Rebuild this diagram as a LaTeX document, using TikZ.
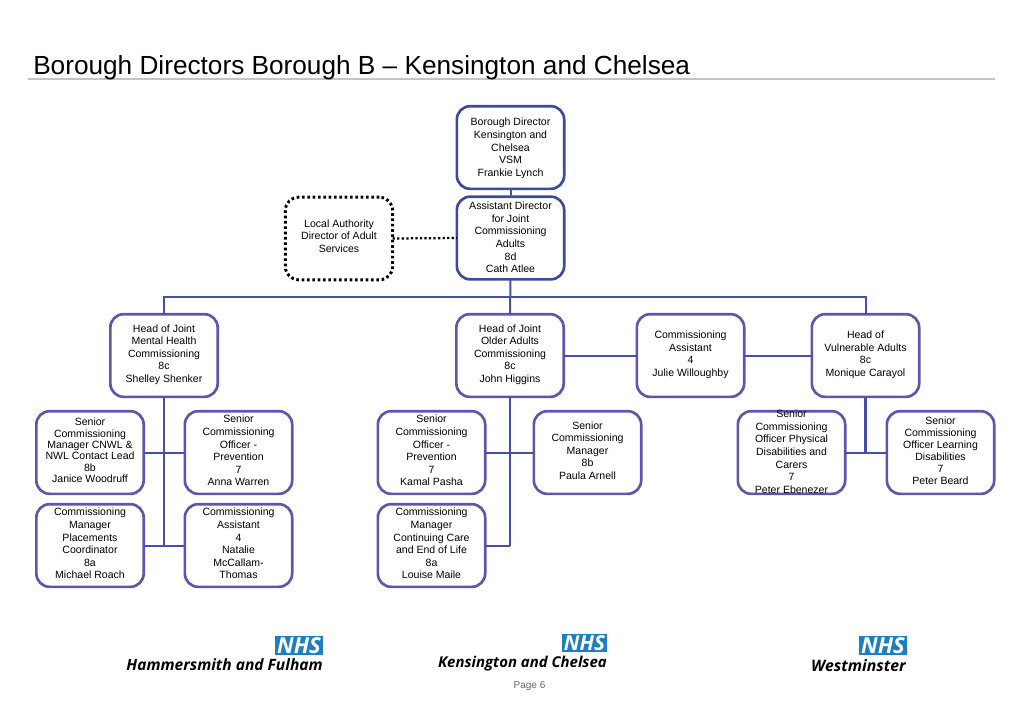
\documentclass[tikz,border=0pt]{standalone}
\usepackage{fontspec}
\setmainfont{Liberation Sans}
\newfontfamily\logofont{Open Sans}
\definecolor{topblue}{HTML}{3C4A9C}
\definecolor{lowblue}{HTML}{5F55AE}
\definecolor{linkblue}{HTML}{4450A6}
\definecolor{nhsblue}{HTML}{1B7FC1}
\definecolor{rulegrey}{HTML}{C4C4C4}
\NewDocumentCommand\ctext{O{9.45pt} O{3pt} m}{\raisebox{-#2}{\smash{\fontsize{7.9}{#1}\selectfont\begin{tabular}{@{}c@{}}#3\end{tabular}}}}
\tikzset{
  px/.style={x=0.75pt,y=-0.75pt},
  orgbox/.style={rectangle,rounded corners=10pt,line width=2pt,minimum width=80.5pt,minimum height=62pt,inner sep=0pt,outer sep=0pt,align=center},
  topbox/.style={orgbox,draw=topblue},
  lowbox/.style={orgbox,draw=lowblue},
  dotbox/.style={orgbox,draw=black,line width=2.2pt,dash pattern=on 2pt off 2pt},
  link/.style={draw=linkblue,line width=1.5pt},
  trunk/.style={draw=linkblue,line width=1.9pt},
  dotlink/.style={draw=black,line width=1.7pt,dash pattern=on 1.7pt off 1.7pt},
  titletext/.style={anchor=base west,inner sep=0pt,font=\fontsize{19.65}{22}\selectfont},
  logotext/.style={anchor=base east,inner sep=0pt,text=black,font=\logofont\bfseries\itshape},
  nhsbox/.style={fill=nhsblue,minimum height=14pt,inner sep=0pt,outer sep=0pt,text=white,font=\logofont\bfseries\itshape\fontsize{16.5}{16.5}\selectfont}
}
\begin{document}
\begin{tikzpicture}[px]
\useasboundingbox (0,0) rectangle (1023,708);
\coordinate (ruleL) at (28,79);
\coordinate (ruleR) at (995,79);
\draw[rulegrey,line width=0.8pt] (ruleL) -- (ruleR);
\node[titletext] (title) at (33,74.5) {Borough Directors Borough B – Kensington and Chelsea};

\node[topbox] (bd) at (510.5,147.5) {\ctext[9.45pt][5.6pt]{Borough Director\\Kensington and\\Chelsea\\VSM\\Frankie Lynch}};
\node[topbox] (ad) at (510.5,238) {\ctext[9.45pt][5pt]{Assistant Director\\for Joint\\Commissioning\\Adults\\8d\\Cath Atlee}};
\node[dotbox] (la) at (339,238.5) {\ctext[9.45pt][2pt]{Local Authority\\Director of Adult\\Services}};

\node[lowbox] (h1) at (164,355.5) {\ctext{Head of Joint\\Mental Health\\Commissioning\\8c\\Shelley Shenker}};
\node[lowbox] (h2) at (510,355.5) {\ctext{Head of Joint\\Older Adults\\Commissioning\\8c\\John Higgins}};
\node[lowbox] (ca) at (690.5,355.5) {\ctext{Commissioning\\Assistant\\4\\Julie Willoughby}};
\node[lowbox] (h3) at (865.5,355.5) {\ctext{Head of\\Vulnerable Adults\\8c\\Monique Carayol}};

\node[lowbox] (a1) at (90,452.5) {\ctext[8.55pt][3pt]{Senior\\Commissioning\\Manager CNWL \&\\NWL Contact Lead\\8b\\Janice Woodruff}};
\node[lowbox] (a2) at (238.5,452.5) {\ctext{Senior\\Commissioning\\Officer -\\Prevention\\7\\Anna Warren}};
\node[lowbox] (a3) at (431.5,452.5) {\ctext{Senior\\Commissioning\\Officer -\\Prevention\\7\\Kamal Pasha}};
\node[lowbox] (a4) at (587.5,452.5) {\ctext{Senior\\Commissioning\\Manager\\8b\\Paula Arnell}};
\node[lowbox] (a5) at (791.5,452.5) {\ctext[9.45pt][4.8pt]{Senior\\Commissioning\\Officer Physical\\Disabilities and\\Carers\\7\\Peter Ebenezer}};
\node[lowbox] (a6) at (940.5,452.5) {\ctext[9pt][3pt]{Senior\\Commissioning\\Officer Learning\\Disabilities\\7\\Peter Beard}};

\node[lowbox] (b1) at (90,545.5) {\ctext{Commissioning\\Manager\\Placements\\Coordinator\\8a\\Michael Roach}};
\node[lowbox] (b2) at (238.5,545.5) {\ctext{Commissioning\\Assistant\\4\\Natalie\\McCallam-\\Thomas}};
\node[lowbox] (b3) at (431.5,545.5) {\ctext{Commissioning\\Manager\\Continuing Care\\and End of Life\\8a\\Louise Maile}};

\coordinate (bus) at (510,296.5);
\draw[link] (bd.south) -- (ad.north);
\draw[link] (ad.south) -- (h2.north);
\draw[link] (h1.north) |- (bus) -| (h3.north);
\draw[dotlink] (la.east) -- (ad.west);
\draw[link] (h2.east) -- (ca.west);
\draw[link] (ca.east) -- (h3.west);
\draw[trunk] (h1.south) -- (h1.south |- b1.east);
\draw[link] (a1.east) -- (a2.west);
\draw[link] (b1.east) -- (b2.west);
\draw[trunk] (h2.south) -- (h2.south |- b3.east);
\draw[link] (h2.south |- b3.east) -- (b3.east);
\draw[link] (a3.east) -- (a4.west);
\draw[trunk] (h3.south) -- (h3.south |- a5.east);
\draw[link] (a5.east) -- (a6.west);

\node[nhsbox,minimum width=36pt] (nhs1) at (299,645.5) {NHS};
\node[nhsbox,minimum width=34pt,font=\logofont\bfseries\itshape\fontsize{15.5}{15.5}\selectfont] (nhs2) at (584.5,643) {NHS};
\node[nhsbox,minimum width=36pt] (nhs3) at (883,645.5) {NHS};
\node[logotext,font=\logofont\bfseries\itshape\fontsize{11.67}{13}\selectfont] (log1) at (323,670) {Hammersmith and Fulham};
\node[logotext,font=\logofont\bfseries\itshape\fontsize{11.2}{13}\selectfont] (log2) at (607,667) {Kensington and Chelsea};
\node[logotext,font=\logofont\bfseries\itshape\fontsize{11.85}{13}\selectfont] (log3) at (906,671) {Westminster};
\node[inner sep=0pt,text=black!60,font=\fontsize{7.5}{9}\selectfont] (page) at (529.5,686) {Page 6};
\end{tikzpicture}
\end{document}
